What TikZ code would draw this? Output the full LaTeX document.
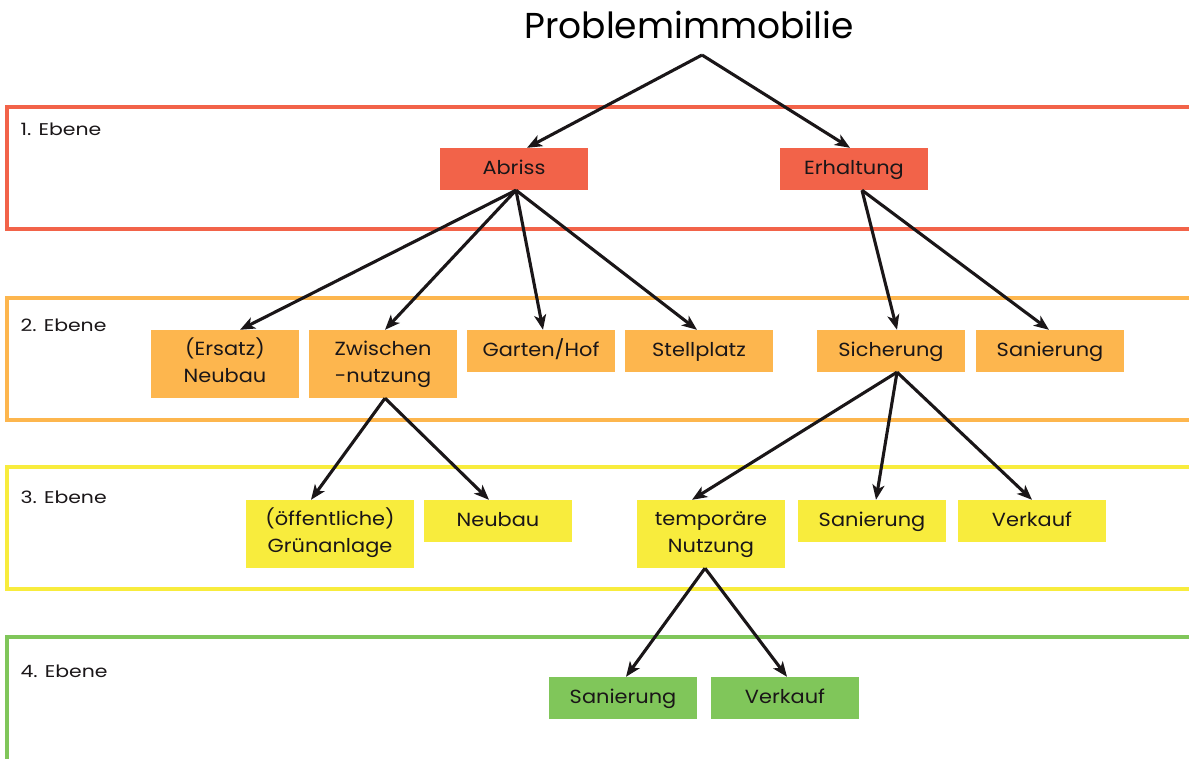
\documentclass[tikz,border=0pt]{standalone}
\usepackage{fontspec}
\setmainfont{Poppins}
\newfontfamily\wideface[FakeStretch=1.1]{Poppins}
\newfontfamily\lblface[FakeStretch=1.2]{Poppins}
\usetikzlibrary{arrows.meta}
\definecolor{cred}{HTML}{F26349}
\definecolor{corange}{HTML}{FDB64E}
\definecolor{cyellow}{HTML}{F8EC3D}
\definecolor{cgreen}{HTML}{80C65A}
\definecolor{cline}{HTML}{1A1618}
\tikzset{
  box/.style={minimum width=148pt, minimum height=42pt, inner sep=2pt, align=center,
    text height=14pt, text depth=4pt,
    font=\wideface\fontsize{19}{27}\selectfont, text=cline},
  tallbox/.style={box, minimum height=68pt, text height=41pt, text depth=4pt},
  frame/.style={line width=4pt},
  lvl/.style={anchor=west, font=\lblface\fontsize{17}{20}\selectfont, text=cline},
  conn/.style={draw=cline, line width=3.1pt, -{Stealth[length=15pt,width=12pt,inset=4pt]}}
}
\begin{document}
\begin{tikzpicture}[x=1pt,y=-1pt]
\useasboundingbox (0,0) rectangle (1189,758);
% frames
\draw[frame, draw=cred] (1300,107) -- (7,107) -- (7,229) -- (1300,229);
\draw[frame, draw=corange] (1300,298) -- (7,298) -- (7,420) -- (1300,420);
\draw[frame, draw=cyellow] (1300,467) -- (7,467) -- (7,589) -- (1300,589);
\draw[frame, draw=cgreen] (1300,637) -- (7,637) -- (7,800);
% level labels
\node[lvl] (l1) at (17,129) {1. Ebene};
\node[lvl] (l2) at (17,325) {2. Ebene};
\node[lvl] (l3) at (17,497) {3. Ebene};
\node[lvl] (l4) at (17,671) {4. Ebene};
% title
\node[font=\fontsize{36}{40}\selectfont, text=black] (title) at (689,25) {Problemimmobilie};
\coordinate (apex) at (702,55);
% level 1
\node[box, fill=cred] (abr) at (514,169) {Abriss};
\node[box, fill=cred] (erh) at (854,169) {Erhaltung};
% level 2
\node[tallbox, fill=corange] (ers) at (225,364) {(Ersatz)\\Neubau};
\node[tallbox, fill=corange] (zwi) at (383,364) {Zwischen\\-nutzung};
\node[box, fill=corange] (gar) at (541,351) {Garten/Hof};
\node[box, fill=corange] (ste) at (699,351) {Stellplatz};
\node[box, fill=corange] (sic) at (891,351) {Sicherung};
\node[box, fill=corange] (san) at (1050,351) {Sanierung};
% level 3
\node[tallbox, fill=cyellow, minimum width=168pt] (gru) at (330,534) {(öffentliche)\\Grünanlage};
\node[box, fill=cyellow] (neu) at (498,521) {Neubau};
\node[tallbox, fill=cyellow] (tem) at (711,534) {temporäre\\Nutzung};
\node[box, fill=cyellow] (san3) at (872,521) {Sanierung};
\node[box, fill=cyellow] (ver3) at (1032,521) {Verkauf};
% level 4
\node[box, fill=cgreen] (san4) at (623,698) {Sanierung};
\node[box, fill=cgreen] (ver4) at (785,698) {Verkauf};
% connectors
\draw[conn] (apex) -- ([xshift=13pt]abr.north);
\draw[conn] (apex) -- ([xshift=-4pt]erh.north);
\draw[conn] ([xshift=2pt]abr.south) -- ([xshift=15pt]ers.north);
\draw[conn] ([xshift=2pt]abr.south) -- ([xshift=2pt]zwi.north);
\draw[conn] ([xshift=2pt]abr.south) -- ([xshift=2pt]gar.north);
\draw[conn] ([xshift=2pt]abr.south) -- ([xshift=-2pt]ste.north);
\draw[conn] ([xshift=8pt]erh.south) -- ([xshift=6pt]sic.north);
\draw[conn] ([xshift=8pt]erh.south) -- ([xshift=-1pt]san.north);
\draw[conn] ([xshift=2pt]zwi.south) -- ([xshift=-19pt]gru.north);
\draw[conn] ([xshift=2pt]zwi.south) -- ([xshift=-9pt]neu.north);
\draw[conn] ([xshift=6pt]sic.south) -- ([xshift=-19pt]tem.north);
\draw[conn] ([xshift=6pt]sic.south) -- ([xshift=4pt]san3.north);
\draw[conn] ([xshift=6pt]sic.south) -- ([xshift=0pt]ver3.north);
\draw[conn] ([xshift=-6pt]tem.south) -- ([xshift=3pt]san4.north);
\draw[conn] ([xshift=-6pt]tem.south) -- ([xshift=2pt]ver4.north);
\end{tikzpicture}
\end{document}
